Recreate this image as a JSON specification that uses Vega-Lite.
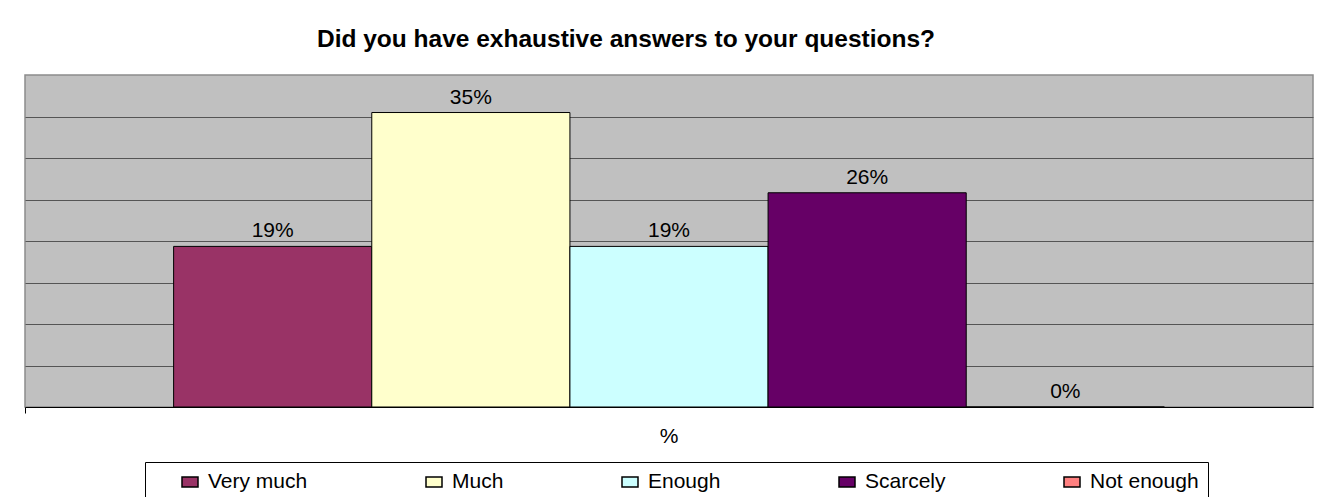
{
  "$schema": "https://vega.github.io/schema/vega-lite/v6.json",
  "width": 1288,
  "height": 332,
  "autosize": "none",
  "padding": {"left": 25, "top": 75, "right": 16, "bottom": 90},
  "background": "white",
  "title": {
    "text": "Did you have exhaustive answers to your questions?",
    "font": "Liberation Sans",
    "fontSize": 24.5,
    "fontWeight": "bold",
    "color": "black",
    "anchor": "middle",
    "dx": -43,
    "offset": 23
  },
  "config": {
    "view": {"fill": "#C0C0C0", "stroke": "#8C8C8C", "strokeWidth": 1.5},
    "font": "Liberation Sans"
  },
  "data": {
    "values": [
      {"group": "%", "answer": "Very much", "share": 0.1935},
      {"group": "%", "answer": "Much", "share": 0.3548},
      {"group": "%", "answer": "Enough", "share": 0.1935},
      {"group": "%", "answer": "Scarcely", "share": 0.2581},
      {"group": "%", "answer": "Not enough", "share": 0}
    ]
  },
  "encoding": {
    "x": {
      "field": "group",
      "type": "nominal",
      "scale": {"paddingInner": 0, "paddingOuter": 0},
      "axis": {
        "title": null,
        "labelAngle": 0,
        "labelFont": "Liberation Sans",
        "labelFontSize": 21,
        "labelColor": "black",
        "labelPadding": 12,
        "domainColor": "black",
        "domainWidth": 1,
        "tickColor": "black",
        "tickSize": 6,
        "bandPosition": 0,
        "grid": false
      }
    },
    "xOffset": {
      "field": "answer",
      "type": "nominal",
      "sort": ["Very much", "Much", "Enough", "Scarcely", "Not enough"],
      "scale": {"paddingInner": 0, "paddingOuter": 0.75}
    },
    "y": {
      "field": "share",
      "type": "quantitative",
      "scale": {"domain": [0, 0.4], "nice": false},
      "axis": {
        "title": null,
        "labels": false,
        "ticks": false,
        "domain": false,
        "grid": true,
        "gridColor": "#555555",
        "gridWidth": 1,
        "values": [0.05, 0.1, 0.15, 0.2, 0.25, 0.3, 0.35]
      }
    }
  },
  "layer": [
    {
      "mark": {"type": "bar", "stroke": "black", "strokeWidth": 1, "opacity": 1},
      "encoding": {
        "color": {
          "field": "answer",
          "type": "nominal",
          "scale": {
            "domain": ["Very much", "Much", "Enough", "Scarcely", "Not enough"],
            "range": ["#993366", "#FFFFCC", "#CCFFFF", "#660066", "#FF8080"]
          },
          "legend": {
            "orient": "none",
            "direction": "horizontal",
            "legendX": 120,
            "legendY": 387,
            "title": " ",
            "titleOrient": "left",
            "titlePadding": 25,
            "titleFontSize": 12,
            "padding": 9,
            "strokeColor": "black",
            "fillColor": "white",
            "gridAlign": "none",
            "columnPadding": 115,
            "labelFont": "Liberation Sans",
            "labelFontSize": 21,
            "labelColor": "black",
            "labelOffset": 7,
            "labelLimit": 300,
            "symbolType": "M-0.8,-0.5H0.8V0.5H-0.8Z",
            "symbolSize": 400,
            "symbolStrokeColor": "black",
            "symbolStrokeWidth": 1.5,
            "symbolOpacity": 1
          }
        }
      }
    },
    {
      "mark": {
        "type": "text",
        "baseline": "bottom",
        "dy": -5,
        "font": "Liberation Sans",
        "fontSize": 21,
        "color": "black"
      },
      "encoding": {
        "text": {"field": "share", "type": "quantitative", "format": ".0%"}
      }
    }
  ]
}
